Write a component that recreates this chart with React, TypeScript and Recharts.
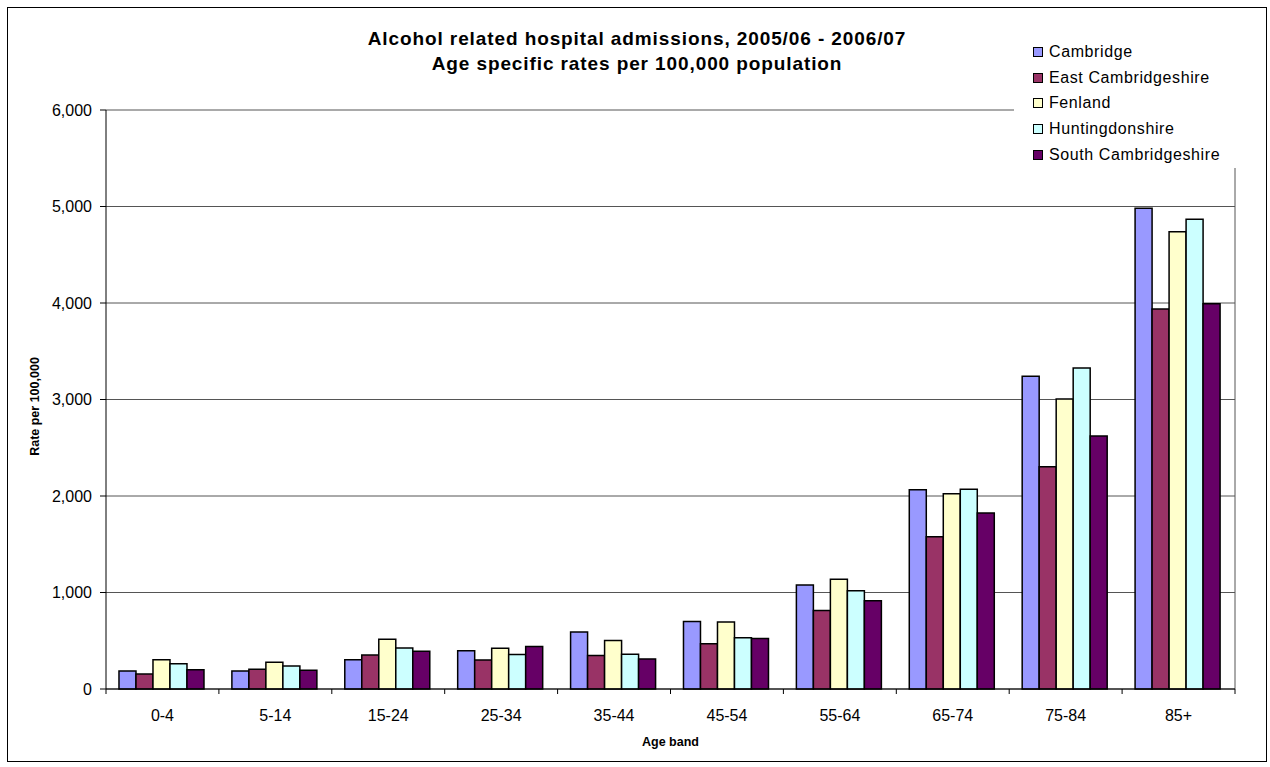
import React from 'react';
import { BarChart, Bar, XAxis, YAxis, CartesianGrid } from 'recharts';

const AGE_BANDS = ['0-4', '5-14', '15-24', '25-34', '35-44', '45-54', '55-64', '65-74', '75-84', '85+'];

const CAMBRIDGE = [187, 187, 304, 397, 590, 700, 1078, 2065, 3240, 4981];
const EAST_CAMBS = [155, 204, 352, 301, 347, 468, 814, 1578, 2304, 3938];
const FENLAND = [304, 277, 515, 423, 503, 694, 1137, 2024, 3005, 4739];
const HUNTS = [262, 238, 425, 358, 361, 530, 1019, 2069, 3326, 4867];
const SOUTH_CAMBS = [200, 194, 390, 440, 312, 524, 915, 1824, 2622, 3993];

const Y_TICKS = [0, 1000, 2000, 3000, 4000, 5000, 6000];

const SERIES = [
  { key: 'cambridge', name: 'Cambridge', values: CAMBRIDGE, color: '#9999FF' },
  { key: 'east', name: 'East Cambridgeshire', values: EAST_CAMBS, color: '#993366' },
  { key: 'fenland', name: 'Fenland', values: FENLAND, color: '#FFFFCC' },
  { key: 'hunts', name: 'Huntingdonshire', values: HUNTS, color: '#CCFFFF' },
  { key: 'south', name: 'South Cambridgeshire', values: SOUTH_CAMBS, color: '#660066' },
];

const data = AGE_BANDS.map((band, i) => {
  const row: any = { band };
  SERIES.forEach((s) => {
    row[s.key] = s.values[i];
  });
  return row;
});

const FONT = '"Liberation Sans", Arial, sans-serif';
const W = 1258;
const H = 753;
const MARGIN = { top: 102, right: 31, left: 38, bottom: 42 };
const Y_WIDTH = 60;
const PLOT_W = W - MARGIN.left - MARGIN.right - Y_WIDTH;
const BAND = PLOT_W / AGE_BANDS.length;

// ticks sit between the categories, like Excel
const XTick = (props: any) => {
  const { x, y, payload, index } = props;
  const half = BAND / 2;
  return (
    <g>
      <line x1={x - half} x2={x - half} y1={y} y2={y + 5} stroke="#000" />
      {index === AGE_BANDS.length - 1 && <line x1={x + half} x2={x + half} y1={y} y2={y + 5} stroke="#000" />}
      <text x={x} y={y + 26} textAnchor="middle" dominantBaseline="central" fontSize={16} fill="#000" fontFamily={FONT}>
        {payload.value}
      </text>
    </g>
  );
};

const App = () => {
  return (
    <div
      style={{
        position: 'absolute',
        left: 7,
        top: 7,
        width: W,
        height: H,
        border: '1px solid #000',
        background: '#fff',
        fontFamily: FONT,
      }}
    >
      <BarChart width={W} height={H} data={data} margin={MARGIN} barCategoryGap="11.5%" barGap={0}>
        <CartesianGrid
          stroke="#555"
          verticalCoordinatesGenerator={({ offset }: any) => [offset.left + offset.width]}
        />
        <XAxis
          dataKey="band"
          height={30}
          interval={0}
          tickSize={0}
          tickMargin={0}
          tickLine={false}
          tick={<XTick />}
          axisLine={{ stroke: '#000' }}
          label={{
            value: 'Age band',
            position: 'bottom',
            offset: 18,
            style: { fontSize: 12.5, fontWeight: 'bold', fill: '#000', fontFamily: FONT },
          }}
        />
        <YAxis
          width={Y_WIDTH}
          domain={[0, 6000]}
          ticks={Y_TICKS}
          interval={0}
          tickSize={6}
          tickMargin={8}
          tickFormatter={(v: number) => v.toLocaleString('en-US')}
          tick={{ fontSize: 16, fill: '#000', fontFamily: FONT }}
          axisLine={{ stroke: '#000' }}
          tickLine={{ stroke: '#000' }}
          label={{
            value: 'Rate per 100,000',
            angle: -90,
            position: 'left',
            offset: 11,
            dy: 7,
            style: { textAnchor: 'middle', fontSize: 12.5, fontWeight: 'bold', fill: '#000', fontFamily: FONT },
          }}
        />
        {SERIES.map((s) => (
          <Bar
            key={s.key}
            dataKey={s.key}
            name={s.name}
            fill={s.color}
            stroke="#000"
            strokeWidth={1.5}
            isAnimationActive={false}
          />
        ))}
      </BarChart>

      {/* title */}
      <div
        style={{
          position: 'absolute',
          left: 0,
          top: 18,
          width: W,
          textAlign: 'center',
          fontWeight: 'bold',
          fontSize: 19,
          letterSpacing: 0.9,
          lineHeight: '25px',
          color: '#000',
        }}
      >
        <div>Alcohol related hospital admissions, 2005/06 - 2006/07</div>
        <div>Age specific rates per 100,000 population</div>
      </div>

      {/* legend */}
      <div
        style={{
          position: 'absolute',
          left: 1006,
          top: 26,
          width: 240,
          height: 134,
          background: '#fff',
          paddingTop: 5,
          boxSizing: 'border-box',
        }}
      >
        {SERIES.map((s) => (
          <div key={s.key} style={{ display: 'flex', alignItems: 'center', height: 25.75, paddingLeft: 19 }}>
            <span
              style={{
                display: 'inline-block',
                width: 8,
                height: 8,
                border: '1px solid #000',
                background: s.color,
                marginRight: 6,
              }}
            />
            <span style={{ fontSize: 16, letterSpacing: 0.6, color: '#000' }}>{s.name}</span>
          </div>
        ))}
      </div>
    </div>
  );
};

export default App;
